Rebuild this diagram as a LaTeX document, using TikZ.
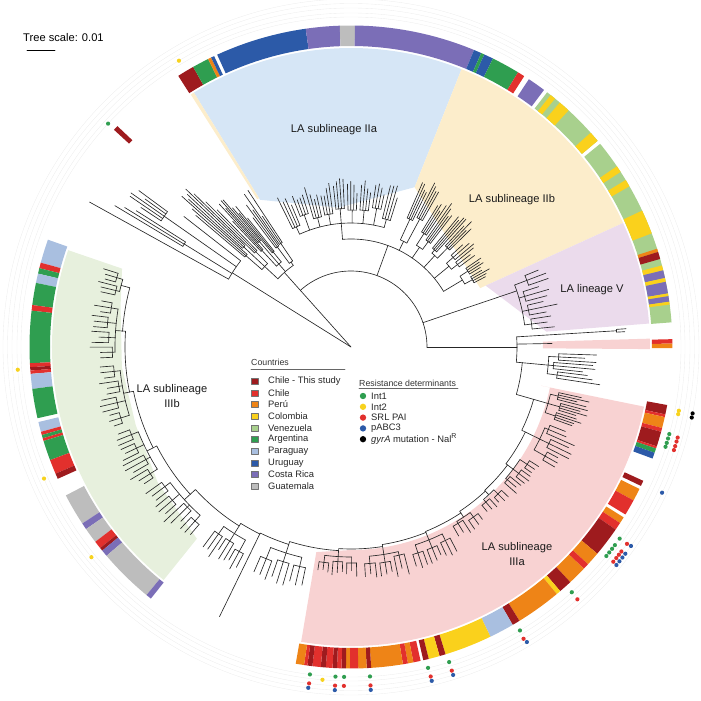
\documentclass[tikz,border=0pt]{standalone}
\usepackage{fontspec}
\setmainfont{Liberation Sans}
\usetikzlibrary{positioning}
\definecolor{cChileS}{HTML}{9E1B1E}
\definecolor{cChile}{HTML}{E2302D}
\definecolor{cPeru}{HTML}{EE8417}
\definecolor{cColombia}{HTML}{FAD11C}
\definecolor{cVenezuela}{HTML}{A8D08D}
\definecolor{cArgentina}{HTML}{2F9E50}
\definecolor{cParaguay}{HTML}{A9BFE0}
\definecolor{cUruguay}{HTML}{2C5AA8}
\definecolor{cCostaRica}{HTML}{7B6EB7}
\definecolor{cGuatemala}{HTML}{BDBDBD}
\definecolor{fIIa}{HTML}{D6E6F6}
\definecolor{fIIb}{HTML}{FCEDCB}
\definecolor{fV}{HTML}{EBDBEC}
\definecolor{fIIIa}{HTML}{F8D2D2}
\definecolor{fIIIb}{HTML}{E7F0DD}
\definecolor{dInt1}{HTML}{2F9E50}
\definecolor{dInt2}{HTML}{F7D21E}
\definecolor{dSRL}{HTML}{E2302D}
\definecolor{dpABC}{HTML}{2C5AA8}

\tikzset{
  branch/.style={line width=0.55pt,black!85},
  guide/.style={line width=0.3pt,black!7},
  cladelabel/.style={font=\fontsize{9.5}{12}\selectfont,text=black!90,align=center,inner sep=0pt},
  legtitle/.style={font=\fontsize{7.5}{9}\selectfont,text=black!80,anchor=west,inner sep=0pt},
  legtext/.style={font=\fontsize{8}{9.5}\selectfont,text=black!85,anchor=west,inner sep=0pt},
  legbox/.style={draw=black!55,line width=0.3pt,minimum width=0.2cm,minimum height=0.18cm,inner sep=0pt},
  legdot/.style={circle,minimum size=0.19cm,inner sep=0pt},
}

\newcommand{\ringseg}[3]{\fill [fill=#3] (#1:301) arc [start angle=#1,end angle=#2,radius=301] -- (#2:321.5) arc [start angle=#2,end angle=#1,radius=321.5] -- cycle;}

\newcommand{\rake}[5]{%
  \draw [branch] (#1:#3) arc [start angle=#1,end angle=#2,radius=#3];
  \foreach \lf in {1,...,#5}{
    \pgfmathsetmacro\leafang{#1+(\lf-1)*(#2-#1)/max(#5-1,1)}
    \pgfmathsetmacro\leaftip{#3+(#4-#3)*(0.5+0.5*rnd)}
    \draw [branch] (\leafang:#3) -- (\leafang:\leaftip);
  }%
}

\newcommand{\clade}[6]{%
  \pgfmathsetmacro\cdW{(#2-#1)/#5}%
  \pgfmathsetmacro\cdA{#1+0.5*\cdW}%
  \pgfmathsetmacro\cdB{#2-0.5*\cdW}%
  \draw [branch] (\cdA:#3) arc [start angle=\cdA,end angle=\cdB,radius=#3];
  \foreach \grp in {1,...,#5}{
    \pgfmathsetmacro\grC{#1+(\grp-0.5)*\cdW}
    \pgfmathsetmacro\grA{\grC-0.35*\cdW}
    \pgfmathsetmacro\grB{\grC+0.35*\cdW}
    \pgfmathsetmacro\grR{#3+(#4-#3)*(0.08+0.3*rnd)}
    \draw [branch] (\grC:#3) -- (\grC:\grR);
    \rake{\grA}{\grB}{\grR}{#4}{#6}
  }%
}

\begin{document}
\begin{tikzpicture}[line cap=round,line join=round,scale=0.03]
\useasboundingbox (-351,-354) rectangle (349,347);
\pgfmathsetseed{21}
\foreach \gd in {330,334,339,343.5,348}
  {\draw [guide] (0,0) circle [radius=\gd];}

\fill [fIIa] (121.7:173) -- (121.7:299) arc [start angle=121.7,end angle=68.3,radius=299] -- (68.3:172) -- (95:140) -- cycle;
\fill [fIIb] (122.4:175) -- (122.4:299) arc [start angle=122.4,end angle=121.7,radius=299] -- (121.7:175) -- cycle;
\fill [fIIb] (68.3:172) -- (68.3:299) arc [start angle=68.3,end angle=24.5,radius=299] -- (24.5:142) -- cycle;
\fill [fV] (24.5:148) -- (24.5:299) arc [start angle=24.5,end angle=4.5,radius=299] -- (4.5:196) -- cycle;
\fill [fIIIa] (1.6:192) -- (1.6:299) arc [start angle=1.6,end angle=-0.4,radius=299] -- (-0.4:192) -- cycle;
\fill [fIIIa] (-11.5:194) -- (-11.5:299) arc [start angle=-11.5,end angle=-99.6,radius=299] -- (-99.6:208) -- (-90:203) arc [start angle=-90,end angle=-11.5,radius=203] -- cycle;
\fill [fIIIb] (161.1:242) -- (161.1:299) arc [start angle=161.1,end angle=231.2,radius=299] -- (231.2:246) -- (215:236) -- (200:229) -- (185:230) -- (170:234) -- cycle;

\draw [branch] (0,0) -- (148:140);
\draw [branch] (142:140) arc [start angle=142,end angle=151,radius=140];
\draw [branch] (142:140) -- (142:212);
\draw [branch] (151:140) -- (151:299);
\draw [branch] (145:140) -- (145:228);
\rake{143.6}{146.4}{228}{272}{5}
\draw [branch] (148.3:140) -- (148.3:196);
\rake{147.6}{149.1}{196}{280}{3}

\draw [branch] (0,0) -- (131.8:76) arc [start angle=131.8,end angle=0,radius=76];
\draw [branch] (131.8:76) -- (131.8:100);
\draw [branch] (125.25:100) arc [start angle=125.25,end angle=137,radius=100];
\draw [branch] (137:100) -- (137:118);
\clade{134}{140}{118}{232}{3}{3}
\draw [branch] (131:100) -- (131:110);
\clade{128.5}{133.5}{110}{205}{3}{3}
\draw [branch] (125.25:100) -- (125.25:104);
\clade{123}{127.5}{104}{190}{2}{3}

\draw [branch] (70:76) -- (70:108);
\draw [branch] (31:108) arc [start angle=31,end angle=94.5,radius=108];
\draw [branch] (94.5:108) -- (94.5:124);
\clade{72}{117}{124}{170}{9}{4}
\foreach \aA/\aB/\rN/\rT/\nG/\nP in {60/67/118/190/2/4,52/59/121/182/2/4,44/51/124/174/2/4,36/43/127/166/2/3,27/35/130/160/2/4}{
  \pgfmathsetmacro\cdC{(\aA+\aB)/2}
  \draw [branch] (\cdC:108) -- (\cdC:\rN);
  \clade{\aA}{\aB}{\rN}{\rT}{\nG}{\nP}
}

\draw [branch] (18.7:76) -- (18.7:175);
\clade{5}{23}{175}{212}{4}{3}

\draw [branch] (0:76) -- (0:166);
\draw [branch] (3.5:166) arc [start angle=3.5,end angle=0,radius=166];
\draw [branch] (3.5:166) -- (3.5:266);
\rake{3.2}{3.8}{266}{278}{2}
\draw [branch] (1:166) -- (1:201);
\foreach \bt/\br [remember=\bt as \lastt (initially 0),remember=\br as \lastr (initially 166)] in {-5.25/172,-16/190,-26/194,-37/196,-47/197,-56.5/199,-68/200,-81/202,-93.5/204,-107.5/207,-116/208,-122/211,-137.5/218,-153/222,-168.5/226,-184/229,-195/231}
  {\draw [branch] (\lastt:\lastr) arc [start angle=\lastt,end angle=\bt,radius=\lastr] -- (\bt:\br);}
\draw [branch] (-116:208) -- (-116:300);
\foreach \aA/\aB/\rB/\rN/\rT/\nG/\nP in {-1.5/-9/172/198/258/3/3,-12/-20/190/205/248/3/4,-21/-31/194/210/245/3/3,-32/-42/196/203/226/3/3,-43/-51/197/202/218/2/3,-52/-61/199/204/222/2/3,-62/-74/200/208/232/3/3,-75/-87/202/210/236/3/3,-88/-99/204/210/230/3/3,-101/-114/207/216/250/3/3,-117/-127/211/220/255/3/3,-130/-145/218/226/258/4/3,-146/-160/222/229/258/4/3,-161/-176/226/232/258/4/3,-177/-191/229/236/262/4/3,-192/-198/231/238/262/2/3}{
  \pgfmathsetmacro\cdC{(\aA+\aB)/2}
  \draw [branch] (\cdC:\rB) -- (\cdC:\rN);
  \clade{\aA}{\aB}{\rN}{\rT}{\nG}{\nP}
}

\foreach \sega/\segb/\segc in {137.5/136.6/cChileS,122.5/119.4/cChileS,119.4/116.4/cArgentina,116.4/115.8/cPeru,115.8/115.2/cUruguay,114.6/98.1/cUruguay,98.1/92.0/cCostaRica,92.0/89.3/cGuatemala,89.3/67.5/cCostaRica,67.5/66.1/cUruguay,66.1/65.5/cArgentina,65.5/63.8/cUruguay,63.8/58.7/cArgentina,58.7/57.4/cChile,56.4/53.1/cCostaRica,52.4/39.9/cVenezuela,39.2/4.4/cVenezuela,51.6/50.6/cColombia,49.5/47.4/cColombia,41.8/39.9/cColombia,34.2/33.0/cColombia,31.3/30.0/cColombia,25.1/20.7/cColombia,17.8/17.2/cPeru,17.2/15.9/cChileS,14.7/13.8/cColombia,13.8/12.4/cCostaRica,12.4/11.7/cColombia,11.7/9.6/cCostaRica,9.6/9.1/cColombia,9.1/8.1/cCostaRica,8.1/7.6/cColombia,1.4/0.6/cChile,0.6/-0.2/cPeru,-10.4/-12.1/cChileS,-12.1/-12.6/cChile,-12.6/-14.6/cPeru,-14.6/-15.3/cChile,-15.3/-18.0/cChileS,-18.0/-18.4/cChile,-18.4/-19.2/cArgentina,-19.2/-20.3/cUruguay,-24.6/-25.6/cChileS,-26.2/-28.5/cPeru,-28.5/-31.4/cChile,-32.0/-33.2/cPeru,-33.2/-34.6/cChile,-34.6/-40.0/cChileS,-40.0/-42.5/cPeru,-42.5/-43.6/cChile,-43.6/-47.0/cPeru,-47.0/-49.4/cChileS,-49.4/-50.2/cColombia,-50.2/-58.4/cPeru,-58.4/-59.8/cChileS,-59.8/-64.3/cParaguay,-64.3/-72.9/cColombia,-72.9/-74.0/cChileS,-74.0/-76.0/cColombia,-76.0/-77.0/cChileS,-77.5/-78.8/cChile,-78.8/-79.8/cPeru,-79.8/-80.7/cChile,-80.7/-86.4/cPeru,-86.4/-87.2/cChileS,-87.2/-88.7/cPeru,-88.7/-90.2/cChile,-90.2/-90.9/cPeru,-90.9/-91.7/cChileS,-91.7/-92.5/cChile,-92.5/-93.3/cChileS,-93.3/-94.5/cChile,-94.5/-95.4/cChileS,-95.4/-96.9/cChile,-96.9/-97.8/cChileS,-97.8/-98.4/cChile,-98.4/-99.9/cPeru,160.5/164.8/cParaguay,164.8/165.8/cChile,165.8/166.8/cArgentina,166.8/168.5/cParaguay,168.5/172.5/cArgentina,172.5/173.5/cChile,173.5/182.9/cArgentina,182.9/183.6/cChile,183.6/184.2/cChileS,184.2/184.8/cChile,184.8/187.5/cParaguay,187.5/192.8/cArgentina,193.5/195.3/cParaguay,195.3/195.9/cChile,195.9/196.5/cArgentina,196.5/197.0/cChile,197.0/200.6/cArgentina,200.6/203.2/cChile,203.2/204.2/cChileS,207.5/213.3/cGuatemala,213.3/214.5/cCostaRica,214.5/217.3/cGuatemala,217.3/218.7/cChile,218.7/219.3/cChileS,219.3/220.5/cCostaRica,220.5/230.5/cGuatemala,230.5/231.5/cCostaRica}
  {\ringseg{\sega}{\segb}{\segc}}

\foreach \a in {137.4,-15.3,-16.1,-16.9,-17.6,-35.5,-36.9,-37.7,-38.5,-39.3,-48.0,-59.2,-72.7,-76.5,-86.7,262.85,267.3,268.8}
  {\fill [dInt1] (\a:330) circle [radius=2.1];}
\foreach \a in {121.0,183.9,203.2,219.0,-11.0,-11.6,265.1}
  {\fill [dInt2] (\a:334) circle [radius=2.1];}
\foreach \a in {-15.5,-16.2,-17.0,-17.7,-35.5,-37.1,-37.8,-38.5,-39.3,-48.1,-59.4,-72.7,-76.4,-86.7,262.9,267.3,268.8}
  {\fill [dSRL] (\a:339) circle [radius=2.1];}
\foreach \a in {-25.1,-35.4,-37.0,-37.8,-38.6,-39.4,-59.2,-72.7,-76.4,-86.7,262.85,267.3}
  {\fill [dpABC] (\a:343.5) circle [radius=2.1];}
\foreach \a in {-11.0,-11.7}
  {\fill [black] (\a:348) circle [radius=2.1];}

\node [cladelabel] (labIIa) at (-17,217) {LA sublineage IIa};
\node [cladelabel] (labIIb) at (161,147) {LA sublineage IIb};
\node [cladelabel] (labV) at (241,57) {LA lineage V};
\node [cladelabel] (labIIIa) at (166,-207) {LA sublineage\\IIIa};
\node [cladelabel] (labIIIb) at (-179,-49) {LA sublineage\\IIIb};

\node [anchor=west,inner sep=0pt,font=\fontsize{9.5}{11}\selectfont] (scalelabel) at (-328,309) {Tree scale: 0.01};
\coordinate (scaleA) at (-324,297);
\coordinate (scaleB) at (-296,297);
\draw [line width=0.8pt] (scaleA) -- (scaleB);

\node [legtitle] (countries) at (-100,-15) {Countries};
\draw [line width=0.5pt,black!60] (-100,-22) -- (-6,-22);
\foreach \cl/\nm [count=\i] in {cChileS/Chile - This study,cChile/Chile,cPeru/Perú,cColombia/Colombia,cVenezuela/Venezuela,cArgentina/Argentina,cParaguay/Paraguay,cUruguay/Uruguay,cCostaRica/Costa Rica,cGuatemala/Guatemala}{
  \node [legbox,fill=\cl] (cbox\i) at (-96,{-34-11.7*(\i-1)}) {};
  \node [legtext] (cname\i) at (-83,{-34-11.7*(\i-1)}) {\nm};
}

\node [legtitle] (resist) at (8,-36) {Resistance determinants};
\draw [line width=0.5pt,black!60] (8,-41.5) -- (107,-41.5);
\foreach \dc/\nm [count=\i] in {dInt1/Int1,dInt2/Int2,dSRL/SRL PAI,dpABC/pABC3,black/{\textit{gyrA} mutation - Nal\textsuperscript{R}}}{
  \node [legdot,fill=\dc] (rdot\i) at (12,{-49-10.8*(\i-1)}) {};
  \node [legtext] (rname\i) at (20,{-49-10.8*(\i-1)}) {\nm};
}
\end{tikzpicture}
\end{document}
